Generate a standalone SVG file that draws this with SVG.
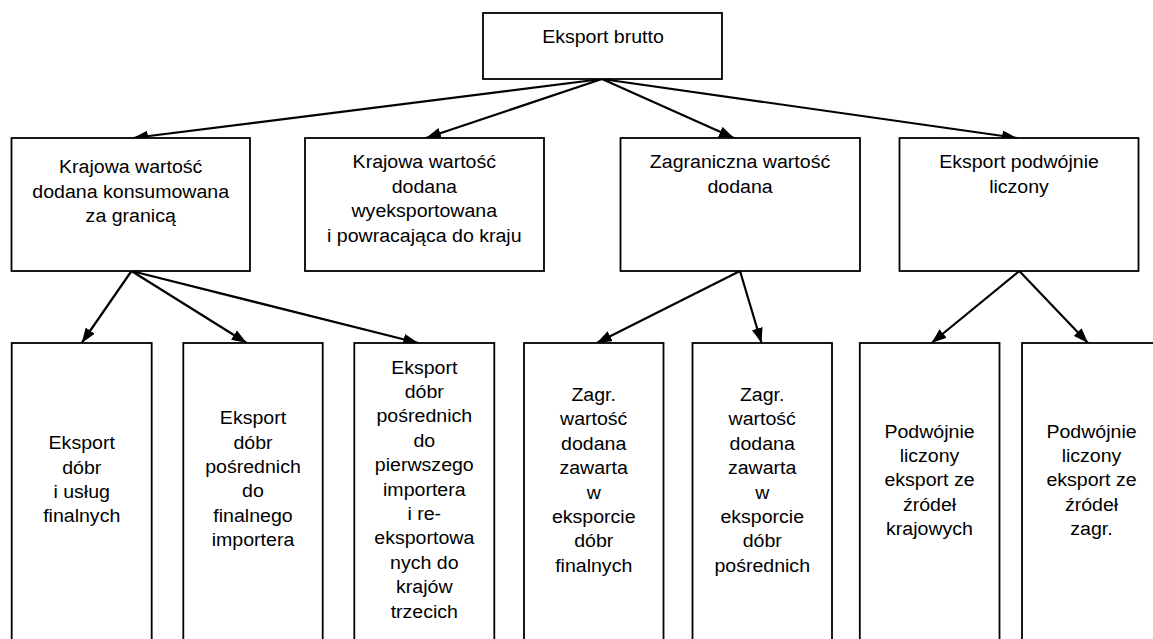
<svg xmlns="http://www.w3.org/2000/svg" width="1153" height="639" viewBox="0 0 1153 639">
<style>
.box{fill:#fff;stroke:#000;stroke-width:1.8}
.t{font-family:'Liberation Sans',Arial,sans-serif;font-size:19px;fill:#000;text-anchor:middle}
.c{stroke:#000;stroke-width:2.2;fill:none;marker-end:url(#ah)}
</style>
<defs>
<marker id="ah" viewBox="0 0 15 11" refX="15" refY="5.5" markerWidth="15" markerHeight="11" markerUnits="userSpaceOnUse" orient="auto">
<path d="M0,0 L15,5.5 L0,11 z" fill="#000"/>
</marker>
</defs>
<rect width="1153" height="639" fill="#fff"/>
<g id="connectors">
<line class="c" x1="602" y1="79" x2="133" y2="138"/>
<line class="c" x1="602" y1="79" x2="426" y2="138"/>
<line class="c" x1="602" y1="79" x2="734" y2="138"/>
<line class="c" x1="602" y1="79" x2="1017" y2="138"/>
<line class="c" x1="131.5" y1="271" x2="81.7" y2="343"/>
<line class="c" x1="131.5" y1="271" x2="246.7" y2="343"/>
<line class="c" x1="131.5" y1="271" x2="418.3" y2="343"/>
<line class="c" x1="740" y1="271" x2="596.7" y2="343"/>
<line class="c" x1="740" y1="271" x2="761.5" y2="343"/>
<line class="c" x1="1019.3" y1="271" x2="931.5" y2="343"/>
<line class="c" x1="1019.3" y1="271" x2="1088" y2="343"/>
</g>
<g id="n0">
<rect class="box" x="483" y="13" width="239" height="66"/>
<text class="t" transform="translate(603 0) scale(1.03 1)"><tspan x="0" y="42.7">Eksport brutto</tspan></text>
</g>
<g id="n1">
<rect class="box" x="11.5" y="138" width="238.5" height="133"/>
<text class="t" transform="translate(130.7 0) scale(1.03 1)"><tspan x="0" y="173.5">Krajowa wartość</tspan><tspan x="0" y="197.9">dodana konsumowana</tspan><tspan x="0" y="222.3">za granicą</tspan></text>
</g>
<g id="n2">
<rect class="box" x="305" y="138" width="239" height="133"/>
<text class="t" transform="translate(424.3 0) scale(1.03 1)"><tspan x="0" y="168.5">Krajowa wartość</tspan><tspan x="0" y="192.9">dodana</tspan><tspan x="0" y="217.3">wyeksportowana</tspan><tspan x="0" y="241.7">i powracająca do kraju</tspan></text>
</g>
<g id="n3">
<rect class="box" x="620.5" y="138" width="239.5" height="133"/>
<text class="t" transform="translate(740 0) scale(1.03 1)"><tspan x="0" y="168.5">Zagraniczna wartość</tspan><tspan x="0" y="192.9">dodana</tspan></text>
</g>
<g id="n4">
<rect class="box" x="899.5" y="138" width="239" height="133"/>
<text class="t" transform="translate(1019 0) scale(1.03 1)"><tspan x="0" y="168.5">Eksport podwójnie</tspan><tspan x="0" y="192.9">liczony</tspan></text>
</g>
<g id="n5">
<rect class="box" x="11.7" y="343" width="140" height="310"/>
<text class="t" transform="translate(81.7 0) scale(1.03 1)"><tspan x="0" y="449.3">Eksport</tspan><tspan x="0" y="473.7">dóbr</tspan><tspan x="0" y="498.1">i usług</tspan><tspan x="0" y="522.5">finalnych</tspan></text>
</g>
<g id="n6">
<rect class="box" x="183.3" y="343" width="139.4" height="310"/>
<text class="t" transform="translate(253 0) scale(1.03 1)"><tspan x="0" y="424.3">Eksport</tspan><tspan x="0" y="448.7">dóbr</tspan><tspan x="0" y="473.1">pośrednich</tspan><tspan x="0" y="497.5">do</tspan><tspan x="0" y="521.9">finalnego</tspan><tspan x="0" y="546.3">importera</tspan></text>
</g>
<g id="n7">
<rect class="box" x="354.3" y="343" width="140" height="310"/>
<text class="t" transform="translate(424.3 0) scale(1.03 1)"><tspan x="0" y="373.7">Eksport</tspan><tspan x="0" y="398.1">dóbr</tspan><tspan x="0" y="422.5">pośrednich</tspan><tspan x="0" y="446.9">do</tspan><tspan x="0" y="471.3">pierwszego</tspan><tspan x="0" y="495.7">importera</tspan><tspan x="0" y="520.1">i re-</tspan><tspan x="0" y="544.5">eksportowa</tspan><tspan x="0" y="568.9">nych do</tspan><tspan x="0" y="593.3">krajów</tspan><tspan x="0" y="617.7">trzecich</tspan></text>
</g>
<g id="n8">
<rect class="box" x="524" y="343" width="139.5" height="310"/>
<text class="t" transform="translate(593.7 0) scale(1.03 1)"><tspan x="0" y="401">Zagr.</tspan><tspan x="0" y="425.4">wartość</tspan><tspan x="0" y="449.8">dodana</tspan><tspan x="0" y="474.2">zawarta</tspan><tspan x="0" y="498.6">w</tspan><tspan x="0" y="523">eksporcie</tspan><tspan x="0" y="547.4">dóbr</tspan><tspan x="0" y="571.8">finalnych</tspan></text>
</g>
<g id="n9">
<rect class="box" x="692.5" y="343" width="139.5" height="310"/>
<text class="t" transform="translate(762.2 0) scale(1.03 1)"><tspan x="0" y="401">Zagr.</tspan><tspan x="0" y="425.4">wartość</tspan><tspan x="0" y="449.8">dodana</tspan><tspan x="0" y="474.2">zawarta</tspan><tspan x="0" y="498.6">w</tspan><tspan x="0" y="523">eksporcie</tspan><tspan x="0" y="547.4">dóbr</tspan><tspan x="0" y="571.8">pośrednich</tspan></text>
</g>
<g id="n10">
<rect class="box" x="859.8" y="343" width="139.7" height="310"/>
<text class="t" transform="translate(929.5 0) scale(1.03 1)"><tspan x="0" y="437.7">Podwójnie</tspan><tspan x="0" y="462.1">liczony</tspan><tspan x="0" y="486.5">eksport ze</tspan><tspan x="0" y="510.9">źródeł</tspan><tspan x="0" y="535.3">krajowych</tspan></text>
</g>
<g id="n11">
<rect class="box" x="1022" y="343" width="139.5" height="310"/>
<text class="t" transform="translate(1091.5 0) scale(1.03 1)"><tspan x="0" y="437.7">Podwójnie</tspan><tspan x="0" y="462.1">liczony</tspan><tspan x="0" y="486.5">eksport ze</tspan><tspan x="0" y="510.9">źródeł</tspan><tspan x="0" y="535.3">zagr.</tspan></text>
</g>
</svg>
